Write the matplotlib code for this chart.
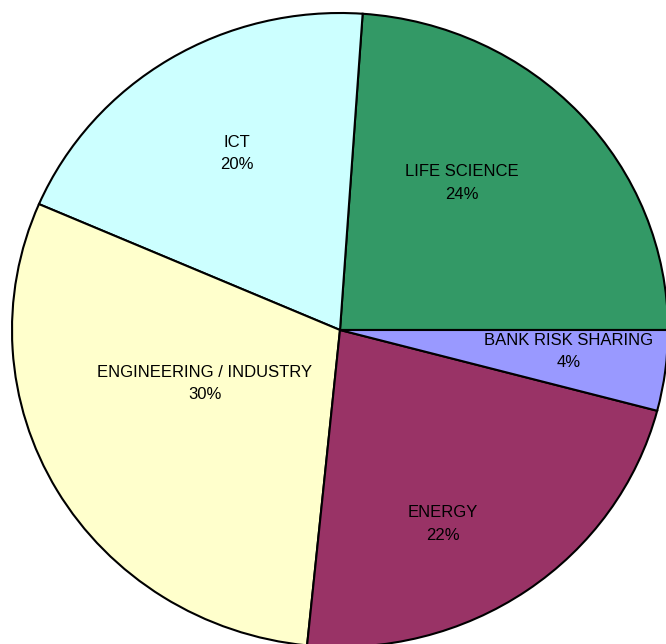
import matplotlib
matplotlib.use("Agg")
import matplotlib.pyplot as plt

categories = ["LIFE SCIENCE", "ICT", "ENGINEERING / INDUSTRY", "ENERGY", "BANK RISK SHARING"]
values = [23.9, 19.6, 29.9, 22.5, 4.1]
pct_labels = ["24%", "20%", "30%", "22%", "4%"]
colors = ["#339966", "#CCFFFF", "#FFFFCC", "#993366", "#9999FF"]

# label centres in axes data units (layout only)
label_xy = [(0.372, 0.464), (-0.314, 0.556), (-0.412, -0.170), (0.314, -0.612), (0.698, -0.069)]

plt.rcParams['font.family'] = ['Liberation Sans', 'DejaVu Sans']

fig = plt.figure(figsize=(6.66, 6.44), dpi=100)
fig.patch.set_facecolor("white")
ax = fig.add_axes([12/666, -3/644, 656/666, 634/644])
wedges, _ = ax.pie(values, colors=colors, startangle=0, counterclock=True,
                   radius=1.0, center=(0, 0),
                   wedgeprops=dict(edgecolor="black", linewidth=1.5))
ax.set_aspect('auto')
ax.set_xlim(-1, 1)
ax.set_ylim(-1, 1)
ax.axis('off')

for cat, pl, (x, y) in zip(categories, pct_labels, label_xy):
    ax.text(x, y, f"{cat}\n{pl}", ha="center", va="center",
            fontsize=12, linespacing=1.6, color="black")

fig.savefig("out.png", dpi=100)
